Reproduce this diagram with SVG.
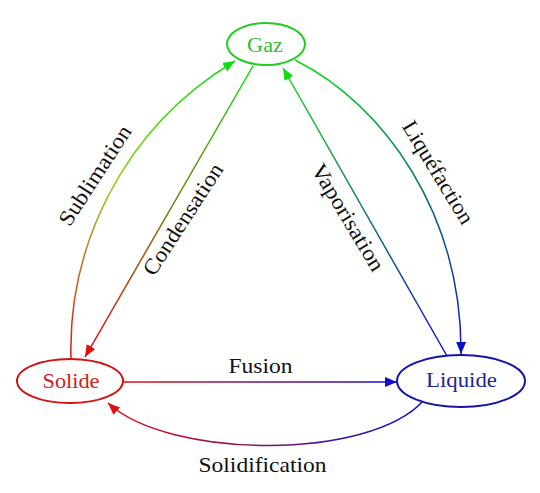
<svg xmlns="http://www.w3.org/2000/svg" width="540" height="493" viewBox="0 0 540 493">
<style>
.node{fill:#fff;stroke-width:2}
.lbl{font-family:"Liberation Serif","DejaVu Serif",serif;font-size:22px;text-anchor:middle}
.edge{fill:none;stroke-width:1.5}
</style>
<defs>
<marker id="aR" markerUnits="userSpaceOnUse" markerWidth="13" markerHeight="11" refX="12" refY="5" orient="auto"><path d="M0,0 L12,5 L0,10 z" fill="#e01010"/></marker>
<marker id="aG" markerUnits="userSpaceOnUse" markerWidth="13" markerHeight="11" refX="12" refY="5" orient="auto"><path d="M0,0 L12,5 L0,10 z" fill="#10dd10"/></marker>
<marker id="aB" markerUnits="userSpaceOnUse" markerWidth="13" markerHeight="11" refX="12" refY="5" orient="auto"><path d="M0,0 L12,5 L0,10 z" fill="#1010cc"/></marker>
<linearGradient id="gSub" gradientUnits="userSpaceOnUse" x1="71" y1="358" x2="235" y2="61"><stop offset="0" stop-color="#e01010"/><stop offset="0.5" stop-color="#9acc22"/><stop offset="1" stop-color="#10dd10"/></linearGradient>
<linearGradient id="gCon" gradientUnits="userSpaceOnUse" x1="253" y1="66" x2="85" y2="357"><stop offset="0" stop-color="#10dd10"/><stop offset="1" stop-color="#e01010"/></linearGradient>
<linearGradient id="gVap" gradientUnits="userSpaceOnUse" x1="447" y1="356" x2="283" y2="68"><stop offset="0" stop-color="#1010cc"/><stop offset="1" stop-color="#10dd10"/></linearGradient>
<linearGradient id="gLiq" gradientUnits="userSpaceOnUse" x1="295" y1="60" x2="461" y2="354"><stop offset="0" stop-color="#10dd10"/><stop offset="1" stop-color="#1010cc"/></linearGradient>
<linearGradient id="gFus" gradientUnits="userSpaceOnUse" x1="123" y1="382" x2="397" y2="382"><stop offset="0" stop-color="#e01010"/><stop offset="1" stop-color="#1010cc"/></linearGradient>
<linearGradient id="gSol" gradientUnits="userSpaceOnUse" x1="423" y1="401" x2="108" y2="403"><stop offset="0" stop-color="#1010cc"/><stop offset="1" stop-color="#e01010"/></linearGradient>
</defs>
<g id="connectors">
<path class="edge" stroke="url(#gSub)" marker-end="url(#aG)" d="M71,358 C68,250 120,130 235,61"/>
<path class="edge" stroke="url(#gCon)" marker-end="url(#aR)" d="M253,66 L85,357"/>
<path class="edge" stroke="url(#gVap)" marker-end="url(#aG)" d="M447,356 L283,68"/>
<path class="edge" stroke="url(#gLiq)" marker-end="url(#aB)" d="M295,60 C385,105 462,215 461,354"/>
<path class="edge" stroke="url(#gFus)" marker-end="url(#aB)" d="M123,382 L397,382"/>
<path class="edge" stroke="url(#gSol)" marker-end="url(#aR)" d="M423,401 C370,460 170,460 108,403"/>
<text class="lbl" fill="#111" x="260.5" y="373" textLength="64" lengthAdjust="spacingAndGlyphs">Fusion</text>
<text class="lbl" fill="#111" x="262.5" y="472" textLength="128" lengthAdjust="spacingAndGlyphs">Solidification</text>
<text class="lbl" fill="#111" transform="translate(96,176) rotate(-57)" x="0" y="6" textLength="115" lengthAdjust="spacingAndGlyphs">Sublimation</text>
<text class="lbl" fill="#111" transform="translate(184,220) rotate(-57)" x="0" y="6" textLength="129" lengthAdjust="spacingAndGlyphs">Condensation</text>
<text class="lbl" fill="#111" transform="translate(347,218) rotate(59)" x="0" y="6" textLength="121" lengthAdjust="spacingAndGlyphs">Vaporisation</text>
<text class="lbl" fill="#111" transform="translate(437,173) rotate(58.6)" x="0" y="6" textLength="117" lengthAdjust="spacingAndGlyphs">Liquéfaction</text>
</g>
<g id="gaz">
<ellipse class="node" cx="266" cy="44" rx="39" ry="21" stroke="#22cc22"/>
<text class="lbl" fill="#33bb33" x="265" y="52" textLength="36" lengthAdjust="spacingAndGlyphs">Gaz</text>
</g>
<g id="solide">
<ellipse class="node" cx="70" cy="381" rx="53" ry="22" stroke="#cc1515"/>
<text class="lbl" fill="#cc2222" x="71" y="388" textLength="57" lengthAdjust="spacingAndGlyphs">Solide</text>
</g>
<g id="liquide">
<ellipse class="node" cx="461" cy="381" rx="64" ry="26" stroke="#1515aa"/>
<text class="lbl" fill="#222299" x="461.5" y="387" textLength="71" lengthAdjust="spacingAndGlyphs">Liquide</text>
</g>
</svg>
